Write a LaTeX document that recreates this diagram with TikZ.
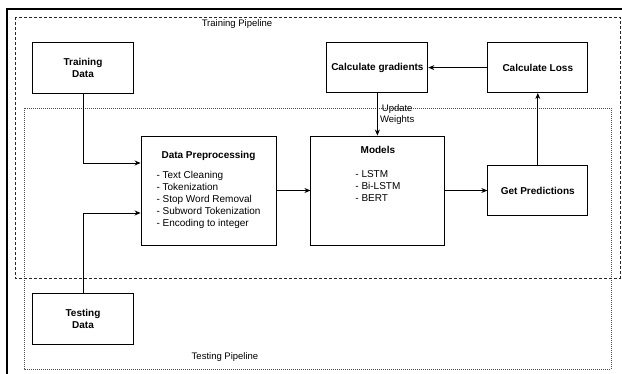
\documentclass[tikz,border=0pt]{standalone}
\usepackage{fontspec}
\setmainfont{Liberation Sans}
\usetikzlibrary{arrows.meta,positioning}
\tikzset{
  stagebox/.style={draw, line width=0.9pt, minimum width=101pt, minimum height=51pt, inner xsep=2pt, font=\fontsize{10}{12}\selectfont\bfseries, align=center},
  listbox/.style={draw, line width=0.9pt, minimum height=109pt, font=\fontsize{10}{12}\selectfont, align=center},
  flowarrow/.style={-{Stealth[length=6pt,width=5pt]}, line width=0.8pt},
  trainframe/.style={dash pattern=on 3pt off 2pt, line width=0.8pt, black!85},
  testframe/.style={dash pattern=on 1pt off 1pt, line width=0.7pt, black!70},
  pipelabel/.style={font=\fontsize{9.5}{11}\selectfont},
}
\begin{document}
\begin{tikzpicture}[x=1pt, y=-1pt, node distance=34pt and 42pt]
  \useasboundingbox (0,0) rectangle (622,374);
  % outer frame and the two pipelines
  \draw[line width=1.2pt] (7,374) -- (7,9) -- (622,9);
  \draw[testframe] (24,108) rectangle (611,369);
  \draw[trainframe] (15,17) rectangle (620,278);
  \node[pipelabel] (trainlbl) at (237,24) {Training Pipeline};
  \node[pipelabel] (testlbl) at (225,357) {Testing Pipeline};

  % stages
  \node[stagebox] (traindata) at (83,68) {Training\\Data};
  \node[stagebox] (testdata) at (83,319) {Testing\\Data};
  \node[listbox, minimum width=135pt] (prep) at (208.5,190.5) {\textbf{Data Preprocessing}\\[9pt]\begin{tabular}{@{}l@{}}- Text Cleaning\\- Tokenization\\- Stop Word Removal\\- Subword Tokenization\\- Encoding to integer\end{tabular}};
  \node[listbox, minimum width=134pt, right=34pt of prep] (models) {\textbf{Models}\\[14pt]\begin{tabular}{@{}l@{}}- LSTM\\- Bi-LSTM\\- BERT\\[30pt]\end{tabular}};
  \node[stagebox, minimum width=100pt, minimum height=50pt, right=42pt of models] (predict) {Get Predictions};
  \node[stagebox, minimum width=100pt, minimum height=50pt, above=72pt of predict] (loss) {Calculate Loss};
  \node[stagebox, minimum height=50pt, left=59pt of loss] (grads) {Calculate gradients};

  % connectors
  \draw[flowarrow] (traindata.south) |- ([yshift=27.5pt]prep.west);
  \draw[flowarrow] (testdata.north) |- ([yshift=-22.5pt]prep.west);
  \draw[flowarrow] (prep) -- (models);
  \draw[flowarrow] (models) -- (predict);
  \draw[flowarrow] (predict) -- (loss);
  \draw[flowarrow] (loss) -- (grads);
  \draw[flowarrow] (grads) -- node[right, align=center, pipelabel, xshift=-1pt] {Update\\Weights} (grads |- models.north);
\end{tikzpicture}
\end{document}
